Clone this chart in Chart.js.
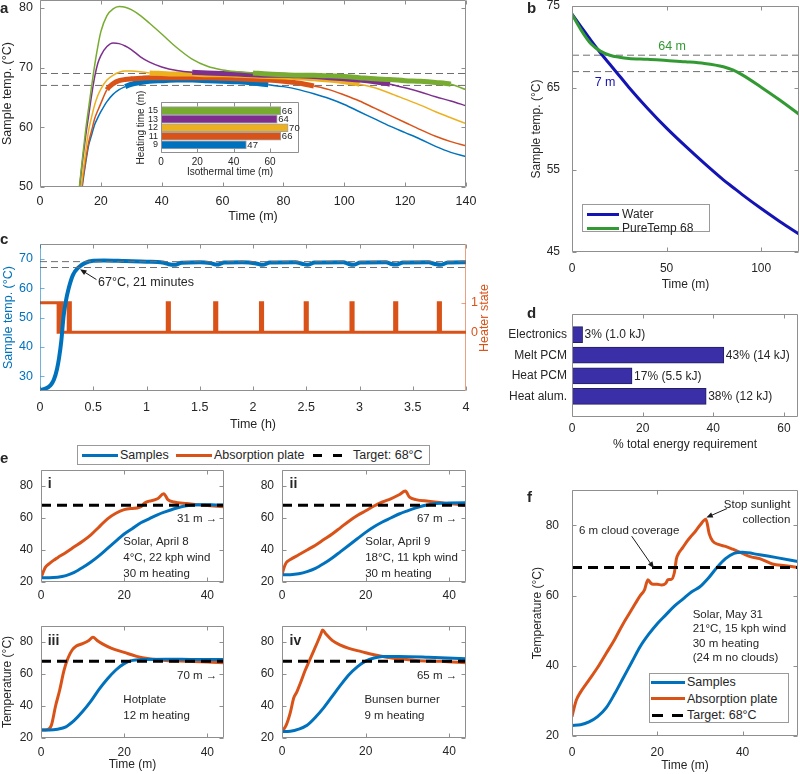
<!DOCTYPE html>
<html lang="en">
<head>
<meta charset="UTF-8">
<title>PCM isothermal heater</title>
<script src="https://cdn.jsdelivr.net/npm/chart.js"></script>
<style>
  html, body { margin: 0; padding: 0; background: #fff; }
  body { position: relative; width: 800px; height: 774px; overflow: hidden;
         font-family: 'Liberation Sans', Arial, Helvetica, sans-serif; color: #262626; }
  canvas { position: absolute; }
  .tag { position: absolute; font-weight: bold; font-size: 15px; line-height: 15px; }
  .lg { position: absolute; border: 1px solid #9a9a9a; background: #fff; box-sizing: border-box; }
  .sw { position: absolute; height: 0; border-top: 3px solid; }
  .lt { position: absolute; font-size: 12.5px; line-height: 14px; white-space: nowrap; }
</style>
</head>
<body>

<canvas id="cA"></canvas>
<canvas id="cIn"></canvas>
<canvas id="cB"></canvas>
<canvas id="cC"></canvas>
<canvas id="cD"></canvas>
<canvas id="cE1"></canvas>
<canvas id="cE2"></canvas>
<canvas id="cE3"></canvas>
<canvas id="cE4"></canvas>
<canvas id="cF"></canvas>

<div class="tag" style="left:0px;top:0px">a</div>
<div class="tag" style="left:527px;top:0px">b</div>
<div class="tag" style="left:0px;top:231px">c</div>
<div class="tag" style="left:527px;top:305px">d</div>
<div class="tag" style="left:0px;top:450px">e</div>
<div class="tag" style="left:527px;top:489px">f</div>

<!-- b legend -->
<div class="lg" style="left:582px;top:204px;width:128px;height:28px"></div>
<div class="sw" style="left:587px;top:212.5px;width:32px;border-color:#1414b4"></div>
<div class="lt" style="left:622px;top:207px;font-size:12px">Water</div>
<div class="sw" style="left:587px;top:226.5px;width:32px;border-color:#339a33"></div>
<div class="lt" style="left:622px;top:221px;font-size:12px">PureTemp 68</div>

<!-- c right axis title -->
<div class="lt" style="left:444px;top:311px;width:80px;text-align:center;color:#d95319;transform:rotate(-90deg)">Heater state</div>

<!-- e legend -->
<div class="lg" style="left:77px;top:445px;width:353px;height:20px"></div>
<div class="sw" style="left:82px;top:453.5px;width:36px;border-color:#0072bd"></div>
<div class="lt" style="left:120px;top:448px">Samples</div>
<div class="sw" style="left:176px;top:453.5px;width:36px;border-color:#d95319"></div>
<div class="lt" style="left:214px;top:448px">Absorption plate</div>
<div class="sw" style="left:313px;top:453.5px;width:9px;border-color:#000"></div>
<div class="sw" style="left:333px;top:453.5px;width:9px;border-color:#000"></div>
<div class="lt" style="left:353px;top:448px">Target: 68°C</div>

<!-- f legend -->
<div class="lg" style="left:649px;top:673px;width:140px;height:50px"></div>
<div class="sw" style="left:651px;top:680.5px;width:34px;border-color:#0072bd"></div>
<div class="lt" style="left:687px;top:675px">Samples</div>
<div class="sw" style="left:651px;top:697px;width:34px;border-color:#d95319"></div>
<div class="lt" style="left:687px;top:691.5px">Absorption plate</div>
<div class="sw" style="left:652px;top:713.5px;width:11px;border-color:#000"></div>
<div class="sw" style="left:672px;top:713.5px;width:11px;border-color:#000"></div>
<div class="lt" style="left:687px;top:708px">Target: 68°C</div>

<script>
  // ---- panel a: sample temperature for different heating times ----
  const aTime = [12, 13, 14, 15, 16, 17, 18, 19, 20, 22, 24, 26, 28, 30, 33, 36, 40, 45, 50, 55,
                 60, 65, 70, 75, 80, 85, 90, 95, 100, 105, 110, 115, 120, 125, 130, 135, 140];
  const aTemp15 = [45.5, 50.3, 55, 59.5, 63.3, 67, 70.5, 73.5, 76, 78.7, 79.8, 80.2, 80.1, 79.7, 78.7, 77.4, 75.6, 73.3, 71.4, 70.2,
                   69.6, 69.3, 69.1, 68.9, 68.8, 68.7, 68.7, 68.6, 68.5, 68.3, 68.1, 68.0, 67.8, 67.7, 67.5, 67.2, 66.3];
  const aTemp13 = [45, 50, 54.5, 58.5, 62, 65.5, 68.5, 70.7, 72, 73.5, 74.1, 74, 73.6, 73, 71.8, 70.9, 70.1, 69.5, 69.2, 69.1,
                   69.0, 68.9, 68.8, 68.7, 68.7, 68.6, 68.5, 68.3, 68.1, 67.9, 67.6, 67.2, 66.6, 65.9, 65.1, 64.4, 63.6];
  const aTemp12 = [43, 47.5, 52, 56, 59.5, 61.8, 63.8, 65.3, 66.4, 67.9, 68.7, 69.2, 69.4, 69.4, 69.3, 69.1, 69.0, 68.9, 68.9, 68.8,
                   68.8, 68.7, 68.6, 68.5, 68.4, 68.3, 68.1, 67.9, 67.6, 67.2, 66.6, 65.7, 64.7, 63.7, 62.6, 61.6, 60.6];
  const aTemp11 = [41, 46.5, 51, 54.5, 57.5, 59.5, 61.5, 62.8, 64, 66.3, 67.3, 67.8, 68, 68.1, 68.2, 68.3, 68.3, 68.3, 68.3, 68.3,
                   68.2, 68.1, 68.0, 67.9, 67.7, 67.4, 66.9, 66.3, 65.4, 64.4, 63.2, 62, 60.8, 59.6, 58.5, 57.6, 56.9];
  const aTemp9 = [40, 45.5, 50.5, 54, 57, 58.8, 60.5, 61.6, 62.6, 64.3, 65.5, 66.3, 66.8, 67.2, 67.5, 67.7, 67.8, 67.9, 67.9, 67.8,
                  67.7, 67.6, 67.4, 67.1, 66.8, 66.3, 65.6, 64.8, 63.8, 62.6, 61.4, 60.2, 59.1, 58, 56.8, 55.8, 55.1];
  const aBand = [67, 69];
  // inset (same order as the curves above)
  const insetHeating = [15, 13, 12, 11, 9];
  const insetIso = [66, 64, 70, 66, 47];
  const isoStart = [68, 52, 36, 23, 28];

  // ---- panel b: cooling curves ----
  const bTime = [0, 5, 10, 15, 20, 25, 30, 40, 50, 60, 70, 80, 85, 90, 100, 110, 120];
  const bWater = [74, 72.4, 70.8, 69.3, 67.9, 66.5, 65.1, 62.5, 60.1, 57.9, 55.8, 53.8, 52.9, 52.0, 50.3, 48.7, 47.2];
  const bPure = [74, 72.0, 70.4, 69.5, 69.0, 68.75, 68.6, 68.5, 68.35, 68.2, 68.0, 67.6, 67.2, 66.6, 65.1, 63.5, 61.8];

  // ---- panel c: regulated run ----
  const cTime = [0, 0.05, 0.1, 0.13, 0.16, 0.18, 0.2, 0.22, 0.24, 0.27, 0.31, 0.36, 0.42, 0.5, 0.6, 0.8, 1.0, 1.15, 1.21, 1.26,
                 1.33, 1.5, 1.6, 1.66, 1.73, 1.9, 2.03, 2.09, 2.16, 2.4, 2.46, 2.51, 2.58, 2.85, 2.89, 2.94, 3.01, 3.25, 3.29, 3.34,
                 3.41, 3.65, 3.7, 3.76, 3.83, 4];
  const cTemp = [25.3, 25.8, 27, 28.8, 32.5, 36.5, 42, 50, 55, 60, 64.5, 67, 68.5, 69.3, 69.4, 69.2, 69.0, 68.7, 68.1, 67.9,
                 68.6, 68.8, 68.5, 68.0, 68.7, 68.8, 68.4, 67.9, 68.7, 68.8, 68.3, 67.9, 68.7, 68.8, 68.3, 67.9, 68.7, 68.8, 68.3, 68.0,
                 68.7, 68.8, 68.3, 67.9, 68.7, 68.8];
  const cHeatT = [0, 0.17, 0.19, 0.21, 0.265, 0.285, 1.195, 1.215, 1.64, 1.66, 2.07, 2.09, 2.49, 2.51, 2.92, 2.94,
                  3.33, 3.35, 3.74, 3.76, 4];
  const cHeatS = [1, 0, 1, 0, 1, 0, 1, 0, 1, 0, 1, 0, 1, 0, 1, 0, 1, 0, 1, 0, 0];

  // ---- panel d: energy budget ----
  const dCats = ['Electronics', 'Melt PCM', 'Heat PCM', 'Heat alum.'];
  const dPct = [3, 43, 17, 38];
  const dText = ['3% (1.0 kJ)', '43% (14 kJ)', '17% (5.5 kJ)', '38% (12 kJ)'];

  // ---- panel e: four heat sources ----
  const target = 68;
  const e1SampT = [0, 2, 4, 6, 8, 10, 12, 14, 16, 18, 20, 22, 24, 26, 28, 30, 32, 34, 36, 38, 40, 42, 44];
  const e1Samp = [22.7, 22.7, 23, 24, 26, 29, 32.5, 36.5, 41, 45.5, 50, 53.5, 57, 59.5, 62, 64, 65.8, 67.2, 68, 68.3, 68.3, 68.2, 68.2];
  const e1PlateT = [0, 0.5, 1, 2, 3, 4, 6, 8, 10, 12, 14, 16, 18, 20, 22, 23, 24, 25, 26, 28, 29.5, 30.5, 32, 35, 38, 40, 44];
  const e1Plate = [22.7, 26, 29, 31.5, 33.5, 35.2, 38.5, 42, 45.5, 49.5, 54.5, 59.5, 63, 65.2, 66, 66.2, 67, 69.5, 70.5, 72, 75.2, 71.5, 70, 69, 68.2, 67.8, 67];
  const e2SampT = [0, 2, 4, 6, 8, 10, 12, 14, 16, 18, 20, 22, 24, 26, 28, 30, 32, 34, 36, 38, 40, 44];
  const e2Samp = [24.5, 24.6, 25.2, 26.5, 28.5, 31.5, 35, 39, 43, 47, 51, 54.5, 57.5, 60, 62.5, 64.5, 66.3, 67.8, 68.8, 69.2, 69.3, 69.5];
  const e2PlateT = [0, 0.5, 1, 2, 4, 6, 8, 10, 12, 14, 16, 18, 20, 22, 24, 26, 28, 29.5, 30.5, 32, 35, 40, 44];
  const e2Plate = [24.5, 29, 32, 34, 37, 40, 43, 46.5, 50, 54, 58, 61.5, 64.5, 67.5, 70, 72, 74.5, 76.8, 73, 71.5, 70.5, 69, 68];
  const e3SampT = [0, 2, 4, 6, 8, 10, 12, 14, 16, 18, 20, 22, 24, 30, 36, 44];
  const e3Samp = [25, 25, 25.5, 27, 31, 36.5, 43, 50.5, 57, 62.5, 66.5, 68.5, 69, 69.2, 69.1, 69];
  const e3PlateT = [0, 1.5, 2.5, 3.5, 4.5, 5.5, 6.5, 7.5, 8.5, 10, 11.5, 12.5, 13.5, 15, 17, 20, 23, 26, 30, 35, 40, 44];
  const e3Plate = [25, 25.2, 28, 40, 50, 62, 70, 75, 77.5, 79, 81, 83, 81, 78.5, 76, 73.5, 71, 69.5, 68.5, 68, 67.5, 67];
  const e4SampT = [0, 2, 4, 6, 8, 10, 12, 14, 16, 18, 20, 22, 24, 28, 35, 44];
  const e4Samp = [24, 24.2, 25.5, 28, 33, 39, 46, 53, 59.5, 64.5, 68, 70, 71, 71, 70.5, 69.5];
  const e4PlateT = [0, 1, 2, 2.8, 3.5, 4.5, 5.5, 6.5, 7.5, 8.5, 9.3, 9.7, 10.5, 12, 14, 16, 19, 22, 25, 28, 32, 38, 44];
  const e4Plate = [24, 28, 36, 45, 48.5, 55, 62, 68, 74, 80, 85, 87.5, 85, 81, 78, 76, 74, 72, 70.5, 69.5, 68.5, 68, 67];

  // ---- panel f: solar run, May 31 ----
  const fSampT = [0, 2, 4, 6, 8, 10, 12, 14, 16, 18, 20, 22, 24, 26, 28, 30, 32, 34, 36, 38, 40, 44, 48, 53];
  const fSamp = [23, 23.2, 24, 25.5, 28, 32, 36.5, 41, 45.5, 49, 52, 54.5, 57, 59, 61, 62.5, 65, 68, 70.5, 72, 72.3, 71.6, 70.8, 69.7];
  const fPlateT = [0, 0.5, 1, 2, 4, 6, 8, 10, 12, 14, 16, 17, 17.8, 18.5, 19, 20, 21, 22, 22.5, 23.3,
                   24, 24.5, 25, 26, 27, 28, 29, 30, 31.4, 32.2, 33, 34.5, 36, 37.7, 40, 42, 44, 47, 50, 53];
  const fPlate = [25.5, 28, 30.2, 32.5, 36, 39.5, 43.5, 47.5, 52, 56, 60, 61.6, 64.5, 63.5, 63.2, 63.2, 63, 63.5, 64.5, 64.6,
                  66.5, 70.5, 72, 73.7, 75.5, 77, 78.4, 80, 81.7, 77.5, 75.5, 74.5, 74, 73.2, 72, 71, 70.5, 69, 68.5, 68];

  const FONT = "'Liberation Sans', Arial, Helvetica, sans-serif";
  const BLUE = '#0072bd', ORANGE = '#d95319', YELLOW = '#edb120', PURPLE = '#7e2f8e', GREEN = '#77ac30';
  const FRAME = '#8f8f8f';

  Chart.defaults.font.family = FONT;
  Chart.defaults.font.size = 12;
  Chart.defaults.color = '#262626';
  Chart.defaults.animation = false;
  Chart.defaults.responsive = false;
  Chart.defaults.plugins.legend.display = false;
  Chart.defaults.plugins.tooltip.enabled = false;
  Chart.defaults.elements.point.radius = 0;

  const pts = (xs, ys) => xs.map((x, i) => ({x, y: ys[i]}));
  const hline = (y, x0, x1) => [{x: x0, y}, {x: x1, y}];

  // box round the plot area with inward ticks, like the original figure
  const framePlugin = {
    id: 'frame',
    beforeDatasetsDraw(chart, args, o) {
      if (!o.bg) return;
      const {ctx, chartArea: a} = chart;
      ctx.save();
      ctx.fillStyle = o.bg;
      ctx.fillRect(a.left, a.top, a.right - a.left, a.bottom - a.top);
      ctx.restore();
    },
    afterDatasetsDraw(chart, args, o) {
      const {ctx, chartArea: a, scales} = chart;
      const L = Math.round(a.left) + 0.5, R = Math.round(a.right) - 0.5;
      const T = Math.round(a.top) + 0.5, B = Math.round(a.bottom) - 0.5;
      const k = 4, col = o.color || FRAME, lc = o.left || col, rc = o.right || col;
      const seg = (x1, y1, x2, y2, c) => {
        ctx.strokeStyle = c; ctx.beginPath(); ctx.moveTo(x1, y1); ctx.lineTo(x2, y2); ctx.stroke();
      };
      ctx.save();
      ctx.lineWidth = 1;
      scales.x.ticks.forEach(t => {
        const x = Math.round(scales.x.getPixelForValue(t.value)) + 0.5;
        seg(x, B, x, B - k, col); seg(x, T, x, T + k, col);
      });
      if (o.yTicks !== false) {
        scales.y.ticks.forEach(t => {
          const y = Math.round(scales.y.getPixelForValue(t.value)) + 0.5;
          seg(L, y, L + k, y, lc);
          if (!scales.y2) seg(R, y, R - k, y, col);
        });
      }
      if (scales.y2) {
        scales.y2.ticks.forEach(t => {
          const y = Math.round(scales.y2.getPixelForValue(t.value)) + 0.5;
          seg(R, y, R - k, y, rc);
        });
      }
      seg(L, T, R, T, col); seg(L, B, R, B, col);
      seg(L, T, L, B, lc); seg(R, T, R, B, rc);
      ctx.restore();
    }
  };

  // free text, arrows and bar-end labels placed in data coordinates
  const notesPlugin = {
    id: 'notes',
    afterDatasetsDraw(chart, args, o) {
      const {ctx, scales} = chart;
      const X = v => scales.x.getPixelForValue(v), Y = v => scales.y.getPixelForValue(v);
      ctx.save();
      (o.arrows || []).forEach(a => {
        const x1 = X(a[0]), y1 = Y(a[1]), x2 = X(a[2]), y2 = Y(a[3]);
        const ang = Math.atan2(y2 - y1, x2 - x1), h = 7;
        ctx.strokeStyle = ctx.fillStyle = '#1a1a1a';
        ctx.lineWidth = 1;
        ctx.beginPath(); ctx.moveTo(x1, y1); ctx.lineTo(x2 - Math.cos(ang) * 4, y2 - Math.sin(ang) * 4); ctx.stroke();
        ctx.beginPath();
        ctx.moveTo(x2, y2);
        ctx.lineTo(x2 - h * Math.cos(ang - 0.4), y2 - h * Math.sin(ang - 0.4));
        ctx.lineTo(x2 - h * Math.cos(ang + 0.4), y2 - h * Math.sin(ang + 0.4));
        ctx.closePath(); ctx.fill();
      });
      (o.texts || []).forEach(t => {
        ctx.font = (t.bold ? 'bold ' : '') + (t.size || 11.5) + 'px ' + FONT;
        ctx.fillStyle = t.color || '#262626';
        ctx.textAlign = t.align || 'left';
        ctx.textBaseline = 'middle';
        ctx.fillText(t.text, X(t.x), Y(t.y));
      });
      if (o.barText) {
        ctx.font = (o.barSize || 12) + 'px ' + FONT;
        ctx.fillStyle = '#262626';
        ctx.textAlign = 'left';
        ctx.textBaseline = 'middle';
        chart.getDatasetMeta(0).data.forEach((bar, i) => ctx.fillText(o.barText[i], bar.x + (o.barGap || 2), bar.y + 0.5));
      }
      ctx.restore();
    }
  };

  // c = canvas rect, p = plot rect, both [left, top, right, bottom] in page pixels
  function xAxis(c, p, o) {
    const size = o.size || 12;
    return {
      type: 'linear', position: 'bottom', min: o.min, max: o.max, offset: false,
      afterBuildTicks: s => { s.ticks = o.ticks.map(v => ({value: v})); },
      afterFit: s => { s.height = c[3] - p[3]; },
      grid: {display: false, drawTicks: false}, border: {display: false},
      ticks: {padding: o.pad, autoSkip: false, maxRotation: 0, minRotation: 0, font: {size}, callback: v => String(v)},
      title: o.title ? {display: true, text: o.title, font: {size},
                        padding: {top: 0, bottom: c[3] - o.titleAt - 0.6 * size}} : {display: false}
    };
  }
  function yAxis(c, p, o, right) {
    const size = o.size || 12;
    return {
      type: 'linear', position: right ? 'right' : 'left', min: o.min, max: o.max, reverse: !!o.reverse, offset: false,
      afterBuildTicks: s => { s.ticks = o.ticks.map(v => ({value: v})); },
      afterFit: s => { s.width = right ? c[2] - p[2] : p[0] - c[0]; },
      grid: {display: false, drawTicks: false}, border: {display: false},
      ticks: {padding: o.pad, autoSkip: false, font: {size: o.tickSize || size}, color: o.color || '#262626',
              callback: o.fmt || (v => String(v))},
      title: o.title ? {display: true, text: o.title, font: {size}, color: o.color || '#262626',
                        padding: {top: o.titleAt - c[0] - 0.6 * size, bottom: 0}} : {display: false}
    };
  }
  function make(id, c, p, type, datasets, scales, frame, notes, extra) {
    const el = document.getElementById(id);
    el.width = c[2] - c[0];
    el.height = c[3] - c[1];
    el.style.left = c[0] + 'px';
    el.style.top = c[1] + 'px';
    return new Chart(el, {
      type,
      data: {datasets},
      options: Object.assign({
        layout: {padding: {left: 0, bottom: 0, top: p[1] - c[1], right: scales.y2 ? 0 : c[2] - p[2]}},
        scales,
        plugins: {frame: frame || {}, notes: notes || {}}
      }, extra || {}),
      plugins: [framePlugin, notesPlugin]
    });
  }

  // ---------- a ----------
  const aSeries = [aTemp15, aTemp13, aTemp12, aTemp11, aTemp9];
  const aColors = [GREEN, PURPLE, YELLOW, ORANGE, BLUE];
  const aSets = aSeries.map((ys, i) => {
    const s = isoStart[i], e = isoStart[i] + insetIso[i];
    return {
      data: pts(aTime, ys), borderColor: aColors[i], borderWidth: 1.5, cubicInterpolationMode: 'monotone',
      segment: {borderWidth: ctx => {
        const m = (ctx.p0.parsed.x + ctx.p1.parsed.x) / 2;
        return m >= s && m <= e ? 5 : 1.5;
      }}
    };
  });
  aBand.forEach(v => aSets.push({data: hline(v, 0, 140), borderColor: '#6e6e6e', borderWidth: 1, borderDash: [7, 4]}));
  {
    const c = [0, -20, 500, 228], p = [40, 0, 466, 187];
    make('cA', c, p, 'line', aSets, {
      x: xAxis(c, p, {min: 0, max: 140, ticks: [0, 20, 40, 60, 80, 100, 120, 140], pad: 7, size: 12.5, title: 'Time (m)', titleAt: 217}),
      y: yAxis(c, p, {min: 50, max: 81.3, ticks: [50, 60, 70, 80], pad: 7, size: 12.5, title: 'Sample temp. (°C)', titleAt: 8})
    });
  }
  {
    const c = [125, 80, 320, 182], p = [161, 102, 299, 153];
    const n = insetHeating.length;
    make('cIn', c, p, 'bar', [{
      data: insetIso.map((v, i) => ({x: v, y: n - i})),
      backgroundColor: aColors, borderColor: 'rgba(50,50,50,0.45)', borderWidth: 1, barThickness: 8
    }], {
      x: xAxis(c, p, {min: 0, max: 76, ticks: [0, 20, 40, 60], pad: 3, size: 10, title: 'Isothermal time (m)', titleAt: 172}),
      y: yAxis(c, p, {min: 0.05, max: 6, ticks: [1, 2, 3, 4, 5], pad: 3, size: 10, tickSize: 9, title: 'Heating time (m)', titleAt: 141,
                      fmt: v => String(insetHeating[n - v])})
    }, {bg: '#ffffff', yTicks: false}, {barText: insetIso.map(String), barSize: 9.5, barGap: 1}, {indexAxis: 'y'});
  }

  // ---------- b ----------
  {
    const c = [520, -20, 830, 296], p = [572, 6, 799, 252];
    const sets = [
      {data: pts(bTime, bPure), borderColor: '#339a33', borderWidth: 3, cubicInterpolationMode: 'monotone'},
      {data: pts(bTime, bWater), borderColor: '#1414b4', borderWidth: 3, cubicInterpolationMode: 'monotone'}
    ];
    aBand.forEach(v => sets.push({data: hline(v, 0, 120), borderColor: '#6e6e6e', borderWidth: 1, borderDash: [7, 4]}));
    make('cB', c, p, 'line', sets, {
      x: xAxis(c, p, {min: 0, max: 120, ticks: [0, 50, 100], pad: 9, title: 'Time (m)', titleAt: 285}),
      y: yAxis(c, p, {min: 45, max: 75, ticks: [45, 55, 65, 75], pad: 12, title: 'Sample temp. (°C)', titleAt: 537})
    }, {}, {texts: [
      {x: 52.9, y: 70.1, text: '64 m', align: 'center', color: '#339a33', size: 12.5},
      {x: 17.5, y: 65.7, text: '7 m', align: 'center', color: '#1414b4', size: 12.5}
    ]});
  }

  // ---------- c ----------
  {
    const c = [0, 225, 500, 440], p = [40, 244, 466, 391];
    const sets = aBand.map(v => ({data: hline(v, 0, 4), borderColor: '#6e6e6e', borderWidth: 1, borderDash: [7, 4], yAxisID: 'y'}));
    sets.push({data: pts(cTime, cTemp), borderColor: BLUE, borderWidth: 4, cubicInterpolationMode: 'monotone', yAxisID: 'y'});
    sets.push({data: pts(cHeatT, cHeatS), borderColor: ORANGE, borderWidth: 3, stepped: true, yAxisID: 'y2'});
    make('cC', c, p, 'line', sets, {
      x: xAxis(c, p, {min: 0, max: 4, ticks: [0, 0.5, 1, 1.5, 2, 2.5, 3, 3.5, 4], pad: 9, size: 12.5, title: 'Time (h)', titleAt: 425}),
      y: yAxis(c, p, {min: 25, max: 75, ticks: [30, 40, 50, 60, 70], pad: 7, size: 12.5, color: BLUE, title: 'Sample temp. (°C)', titleAt: 9}),
      y2: yAxis(c, p, {min: -2, max: 3, ticks: [0, 1], pad: 5, size: 12.5, color: ORANGE}, true)
    }, {left: 'rgba(0,114,189,0.55)', right: 'rgba(217,83,25,0.55)'}, {
      texts: [{x: 0.545, y: 61.8, text: '67°C, 21 minutes', size: 12.5}],
      arrows: [[0.53, 62.9, 0.376, 66.4]]
    });
  }

  // ---------- d ----------
  {
    const c = [500, 295, 830, 460], p = [572, 314, 798, 417];
    make('cD', c, p, 'bar', [{
      data: dPct.map((v, i) => ({x: v, y: i + 1})),
      backgroundColor: '#3a2fa6', borderColor: '#22205e', borderWidth: 1, barThickness: 16
    }], {
      x: xAxis(c, p, {min: 0, max: 64, ticks: [0, 20, 40, 60], pad: 4, title: '% total energy requirement', titleAt: 445}),
      y: yAxis(c, p, {min: 0, max: 5, reverse: true, ticks: [1, 2, 3, 4], pad: 5, fmt: v => dCats[v - 1]})
    }, {yTicks: false}, {barText: dText, barSize: 12, barGap: 2}, {indexAxis: 'y'});
  }

  // ---------- e ----------
  function eChart(id, c, p, sT, sV, pT, pV, texts, withTitles) {
    const sets = [
      {data: hline(target, 0, 44), borderColor: '#000', borderWidth: 3, borderDash: [10, 6]},
      {data: pts(sT, sV), borderColor: BLUE, borderWidth: 3, cubicInterpolationMode: 'monotone'},
      {data: pts(pT, pV), borderColor: ORANGE, borderWidth: 3, cubicInterpolationMode: 'monotone'}
    ];
    make(id, c, p, 'line', sets, {
      x: xAxis(c, p, Object.assign({min: 0, max: 44, ticks: [0, 20, 40], pad: withTitles ? 7 : 6},
                                   withTitles ? {title: 'Time (m)', titleAt: 765} : {})),
      y: yAxis(c, p, Object.assign({min: 20, max: 90, ticks: [20, 40, 60, 80], pad: 8},
                                   withTitles ? {title: 'Temperature (°C)', titleAt: 8} : {}))
    }, {}, {texts});
  }
  eChart('cE1', [0, 450, 250, 610], [41, 470, 224, 582], e1SampT, e1Samp, e1PlateT, e1Plate, [
    {x: 1.6, y: 81.3, text: 'i', bold: true, size: 14},
    {x: 42.4, y: 59.4, text: '31 m →', align: 'right'},
    {x: 19.8, y: 45, text: 'Solar, April 8'},
    {x: 19.8, y: 35, text: '4°C, 22 kph wind'},
    {x: 19.8, y: 25, text: '30 m heating'}
  ], false);
  eChart('cE2', [240, 450, 490, 610], [282, 470, 466, 582], e2SampT, e2Samp, e2PlateT, e2Plate, [
    {x: 1.8, y: 81.3, text: 'ii', bold: true, size: 14},
    {x: 41.9, y: 59.4, text: '67 m →', align: 'right'},
    {x: 19.9, y: 45, text: 'Solar, April 9'},
    {x: 19.9, y: 35, text: '18°C, 11 kph wind'},
    {x: 19.9, y: 25, text: '30 m heating'}
  ], false);
  eChart('cE3', [0, 606, 250, 780], [41, 626, 224, 738], e3SampT, e3Samp, e3PlateT, e3Plate, [
    {x: 1.6, y: 80.3, text: 'iii', bold: true, size: 14},
    {x: 42.4, y: 58.75, text: '70 m →', align: 'right'},
    {x: 19.8, y: 43.75, text: 'Hotplate'},
    {x: 19.8, y: 33.75, text: '12 m heating'}
  ], true);
  eChart('cE4', [240, 606, 490, 780], [282, 626, 466, 738], e4SampT, e4Samp, e4PlateT, e4Plate, [
    {x: 1.8, y: 80.3, text: 'iv', bold: true, size: 14},
    {x: 41.9, y: 58.75, text: '65 m →', align: 'right'},
    {x: 19.7, y: 43.75, text: 'Bunsen burner'},
    {x: 19.7, y: 33.75, text: '9 m heating'}
  ], false);

  // ---------- f ----------
  {
    const c = [520, 470, 830, 780], p = [572, 489, 798, 736];
    const sets = [
      {data: hline(target, 0, 53), borderColor: '#000', borderWidth: 3, borderDash: [10, 6]},
      {data: pts(fSampT, fSamp), borderColor: BLUE, borderWidth: 3, cubicInterpolationMode: 'monotone'},
      {data: pts(fPlateT, fPlate), borderColor: ORANGE, borderWidth: 3, cubicInterpolationMode: 'monotone'}
    ];
    make('cF', c, p, 'line', sets, {
      x: xAxis(c, p, {min: 0, max: 53, ticks: [0, 20, 40], pad: 9, title: 'Time (m)', titleAt: 766}),
      y: yAxis(c, p, {min: 20, max: 90, ticks: [20, 40, 60, 80], pad: 13, title: 'Temperature (°C)', titleAt: 538})
    }, {}, {
      texts: [
        {x: 51.2, y: 85.7, text: 'Stop sunlight', align: 'right'},
        {x: 51.2, y: 81.7, text: 'collection', align: 'right'},
        {x: 13.4, y: 78.3, text: '6 m cloud coverage', align: 'center'},
        {x: 28.3, y: 54.5, text: 'Solar, May 31'},
        {x: 28.3, y: 50.5, text: '21°C, 15 kph wind'},
        {x: 28.3, y: 46.3, text: '30 m heating'},
        {x: 28.3, y: 42.3, text: '(24 m no clouds)'}
      ],
      arrows: [[36.4, 84.8, 31.5, 82.2], [14, 76.9, 19.2, 67.8]]
    });
  }
</script>
</body>
</html>
